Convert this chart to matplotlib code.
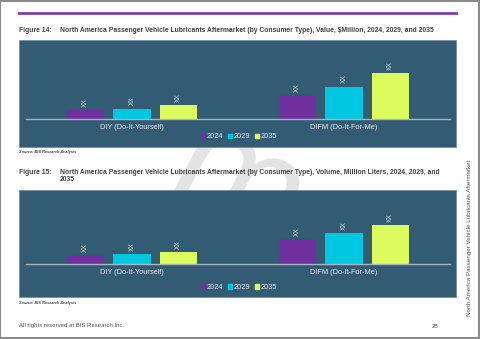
import matplotlib
matplotlib.use("Agg")
import matplotlib.pyplot as plt
from matplotlib.patches import Rectangle
from matplotlib.lines import Line2D
import numpy as np

plt.rcParams['font.family'] = ['Liberation Sans', 'DejaVu Sans']

# ---- data ----
categories = ["DIY (Do-It-Yourself)", "DIFM (Do-It-For-Me)"]
years = ["2024", "2029", "2035"]
value_2024 = [8.7, 23.7]
value_2029 = [10.3, 32.3]
value_2035 = [13.7, 45.7]
volume_2024 = [9.0, 25.0]
volume_2029 = [10.3, 31.0]
volume_2035 = [12.0, 39.3]
bar_labels = ["XX", "XX"]

title14 = "North America Passenger Vehicle Lubricants Aftermarket (by Consumer Type), Value, $Million, 2024, 2029, and 2035"
title15 = "North America Passenger Vehicle Lubricants Aftermarket (by Consumer Type), Volume, Million Liters, 2024, 2029, and\n2035"

colors = ["#7030a0", "#00c8e0", "#dcfc5e"]
panel_c = "#345b74"

W, H = 480, 339
fig = plt.figure(figsize=(4.8, 3.39), dpi=100)
fig.patch.set_facecolor("white")

def fx(px):
    return px / W

def fy(py):
    return 1 - py / H

# page border
fig.patches.append(Rectangle((0.001, 0.002), 0.997, 0.995, transform=fig.transFigure,
                             fill=False, edgecolor="#8c8c8c", linewidth=1.5, zorder=0))
# purple line
fig.add_artist(Line2D([fx(19), fx(456)], [fy(13), fy(13)], transform=fig.transFigure,
                      color="#7b3fa8", linewidth=2.0))

# watermark
fig.text(fx(238), fy(188), "m", fontsize=100, rotation=-28, color="#e3e3e3",
         ha="center", va="center", family="DejaVu Sans", zorder=-1)

def panel(top, bottom, base, vals, title, title_y, src_y, label_y, legend_y):
    fig.patches.append(Rectangle((fx(19), fy(bottom)), fx(456) - fx(19), fy(top) - fy(bottom),
                                 transform=fig.transFigure, facecolor=panel_c,
                                 edgecolor="#6d8aa0", linewidth=0.5, zorder=1))
    fig.text(fx(19), fy(title_y), "Figure %s:" % title[0], fontsize=4.9, fontweight="bold",
             color="#404040", va="top", ha="left")
    fig.text(fx(60), fy(title_y), title[1], fontsize=4.9, fontweight="bold",
             color="#404040", va="top", ha="left", linespacing=1.05)
    fig.text(fx(19), fy(src_y), "Source: BIS Research Analysis", fontsize=2.8,
             fontweight="bold", style="italic", color="#404040", va="center")
    ax = fig.add_axes([fx(26), fy(base), fx(450) - fx(26), fy(top) - fy(base)], zorder=2)
    ax.patch.set_alpha(0)
    ax.set_xlim(-0.5, 1.5)
    ax.set_ylim(0, base - top)
    x = np.arange(len(categories))
    off = 0.22
    w = 0.175
    for i, (v, c, yr) in enumerate(zip(vals, colors, years)):
        bars = ax.bar(x + (i - 1) * off, v, width=w, color=c, label=yr)
        for b, lab in zip(bars, bar_labels):
            ax.annotate(lab, (b.get_x() + b.get_width() / 2, b.get_height()),
                        xytext=(0, 2.5), textcoords="offset points", rotation=90,
                        ha="center", va="bottom", fontsize=4.8, color="#d5dde5")
    for s in ["top", "right", "left"]:
        ax.spines[s].set_visible(False)
    ax.spines["bottom"].set_color("#a6b6c3")
    ax.spines["bottom"].set_linewidth(1.0)
    ax.set_yticks([])
    ax.set_xticks(x)
    ax.set_xticklabels(categories, fontsize=5.3, color="#e6ebf0")
    ax.tick_params(axis="x", length=0, pad=(label_y - base) * 0.72 - 2.2)
    handles = [Rectangle((0, 0), 1, 1, color=c) for c in colors]
    leg = fig.legend(handles, years, loc="center", bbox_to_anchor=(fx(239), fy(legend_y)),
                     ncol=3, frameon=False, fontsize=5.3, handlelength=0.55,
                     handleheight=0.55, handletextpad=0.25, columnspacing=0.6,
                     borderaxespad=0, borderpad=0)
    for t in leg.get_texts():
        t.set_color("#e6ebf0")
    leg.set_zorder(3)
    return ax

panel(40, 146.5, 119, [value_2024, value_2029, value_2035], ("14", title14),
      26.5, 152, 127, 137)
panel(190, 297, 264.3, [volume_2024, volume_2029, volume_2035], ("15", title15),
      168.5, 303, 271.7, 287.7)

fig.text(fx(19), fy(326), "All rights reserved at BIS Research Inc.", fontsize=4.3,
         color="#555555", va="center")
fig.text(fx(432), fy(326), "28", fontsize=4.3, color="#555555", va="center")
fig.text(fx(470), fy(238), "North America Passenger Vehicle Lubricants Aftermarket",
         rotation=90, fontsize=4.5, color="#555555", ha="center", va="center")

fig.savefig("out.png", dpi=100, facecolor="white")
